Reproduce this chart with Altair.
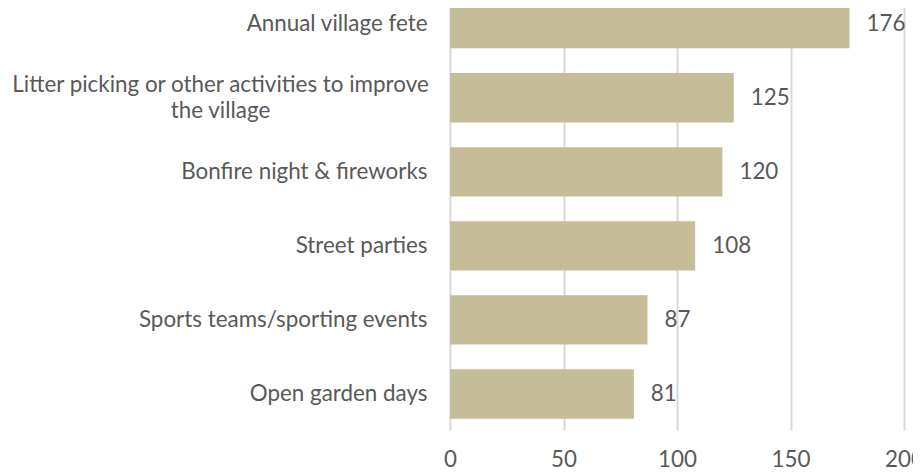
import altair as alt
import pandas as pd

categories = [
    "Annual village fete",
    "Litter picking or other activities to improve the village",
    "Bonfire night & fireworks",
    "Street parties",
    "Sports teams/sporting events",
    "Open garden days",
]
values = [176, 125, 120, 108, 87, 81]
x_ticks = [0, 50, 100, 150, 200]

WRAP = "Litter picking or other activities to improve the village"
FONT = "Lato"
TXT = "#595959"
FS = 22.4

df = pd.DataFrame({"activity": categories, "count": values})

test = f"datum.value == '{WRAP}'"

y = alt.Y(
    "activity:N",
    sort=categories,
    title=None,
    scale=alt.Scale(paddingInner=0.334, paddingOuter=0.153),
    axis=alt.Axis(
        domain=False,
        ticks=False,
        grid=False,
        labelFont=FONT,
        labelFontSize=FS,
        labelColor=TXT,
        labelLimit=700,
        labelLineHeight=26,
        labelExpr=f"{test} ? ['Litter picking or other activities to improve', 'the village'] : datum.value",
        labelAlign={"condition": {"test": test, "value": "center"}, "value": "right"},
        labelPadding={"condition": {"test": test, "value": 230}, "value": 23},
        labelOffset={"condition": {"test": test, "value": -13}, "value": 0},
    ),
)

x = alt.X(
    "count:Q",
    title=None,
    scale=alt.Scale(domain=[0, 200]),
    axis=alt.Axis(
        values=x_ticks,
        domain=False,
        ticks=False,
        grid=True,
        gridColor="#D9D9D9",
        gridWidth=2,
        labelFont=FONT,
        labelFontSize=FS,
        labelColor=TXT,
        labelPadding=18,
        labelFlush=False,
    ),
)

base = alt.Chart(df).encode(x=x, y=y)

bars = base.mark_bar(color="#C4BD97")
labels = base.mark_text(
    align="left", baseline="middle", dx=17, font=FONT, fontSize=FS, color=TXT
).encode(text="count:Q")

chart = (
    alt.layer(bars, labels)
    .properties(
        width=454,
        height=442.3,
        autosize=alt.AutoSizeParams(type="none"),
        padding={"left": 442, "top": -20.3, "right": 9, "bottom": 40},
    )
    .configure_view(stroke=None)
)

chart.save("out.html", embed_options={"renderer": "svg", "actions": False})
